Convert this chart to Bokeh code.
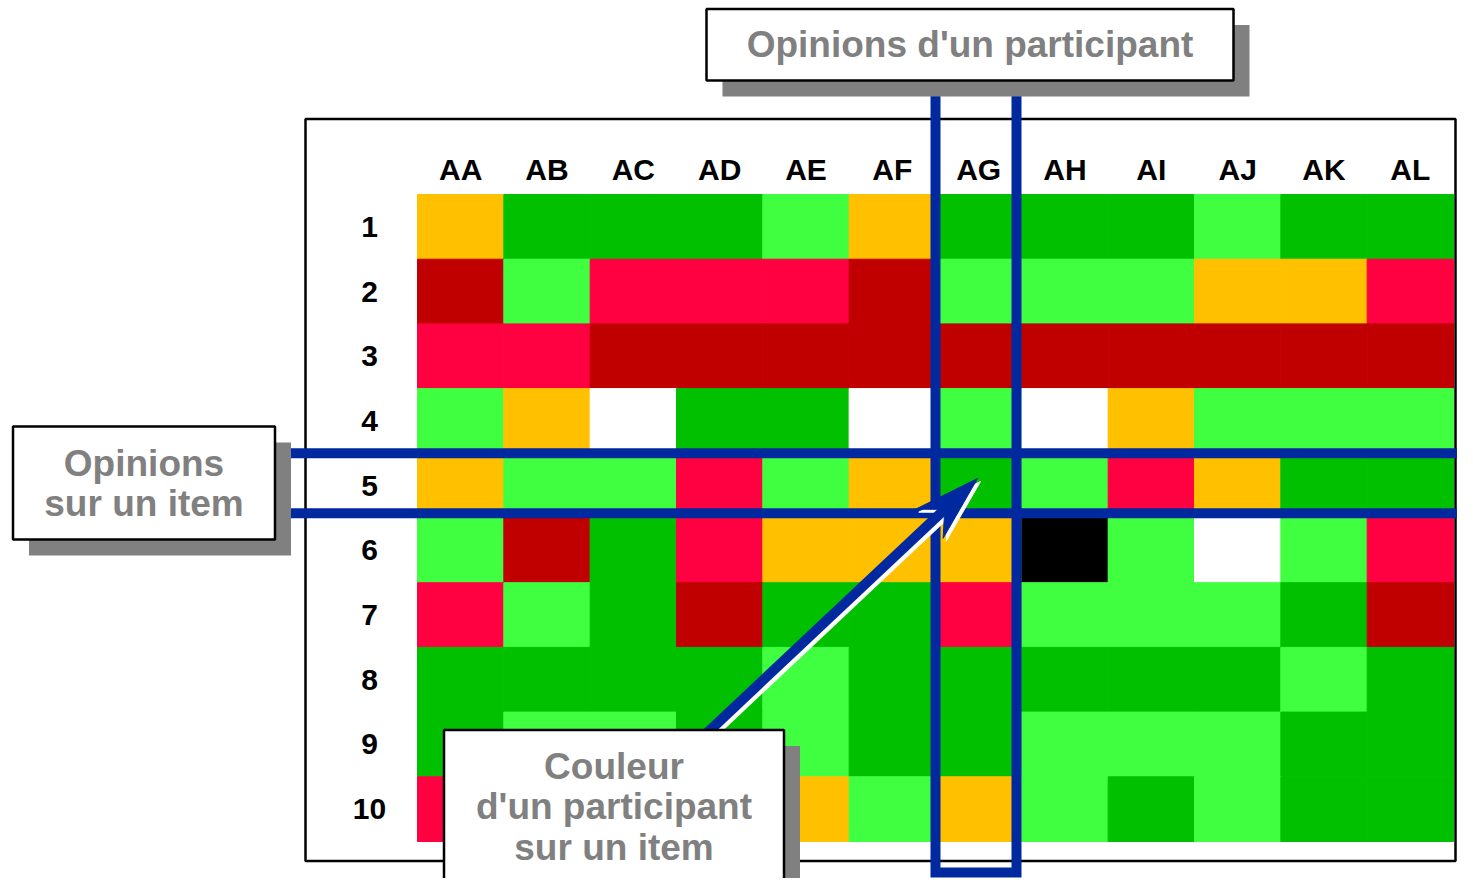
import math
from bokeh.plotting import figure
from bokeh.models import Range1d
from bokeh.core.properties import value
from bokeh.embed import file_html
from bokeh.resources import INLINE

# ---------------- data ----------------
columns = ["AA", "AB", "AC", "AD", "AE", "AF", "AG", "AH", "AI", "AJ", "AK", "AL"]
row_labels = ["1", "2", "3", "4", "5", "6", "7", "8", "9", "10"]

# opinion codes: G = dark green, L = light green, O = orange, R = red,
# D = dark red, W = white (no answer), K = black
row_1 = ["O", "G", "G", "G", "L", "O", "G", "G", "G", "L", "G", "G"]
row_2 = ["D", "L", "R", "R", "R", "D", "L", "L", "L", "O", "O", "R"]
row_3 = ["R", "R", "D", "D", "D", "D", "D", "D", "D", "D", "D", "D"]
row_4 = ["L", "O", "W", "G", "G", "W", "L", "W", "O", "L", "L", "L"]
row_5 = ["O", "L", "L", "R", "L", "O", "G", "L", "R", "O", "G", "G"]
row_6 = ["L", "D", "G", "R", "O", "O", "O", "K", "L", "W", "L", "R"]
row_7 = ["R", "L", "G", "D", "G", "G", "R", "L", "L", "L", "G", "D"]
row_8 = ["G", "G", "G", "G", "L", "G", "G", "G", "G", "G", "L", "G"]
row_9 = ["G", "L", "L", "G", "L", "G", "G", "L", "L", "L", "G", "G"]
row_10 = ["R", "L", "L", "G", "O", "L", "O", "L", "G", "L", "G", "G"]
rows_data = [row_1, row_2, row_3, row_4, row_5, row_6, row_7, row_8, row_9, row_10]

palette = {"G": "#00C000", "L": "#40FF40", "O": "#FFC000", "R": "#FF0040",
           "D": "#C00000", "W": "#FFFFFF", "K": "#000000"}

highlight_col = "AG"
highlight_row = "5"

# ---------------- geometry (canvas pixels -> grid units) ----------------
GX0, GX1 = 417.0, 1453.0
GY0, GY1 = 194.0, 841.0
CW = (GX1 - GX0) / len(columns)
RH = (GY1 - GY0) / len(row_labels)


def gx(px):
    return (px - GX0) / CW


def gy(py):
    return (py - GY0) / RH


W, H = 1457, 878
p = figure(width=W, height=H, output_backend="svg", toolbar_location=None,
           x_range=Range1d(gx(0), gx(W)), y_range=Range1d(gy(H), gy(0)),
           min_border=0)
p.axis.visible = False
p.grid.visible = False
p.outline_line_color = None
p.background_fill_color = "white"
p.border_fill_color = "white"

# ---------------- heatmap ----------------
xs, ys, cs = [], [], []
for ri, r in enumerate(rows_data):
    for ci, code in enumerate(r):
        xs.append(ci + 0.5)
        ys.append(ri + 0.5)
        cs.append(palette[code])
p.rect(x=xs, y=ys, width=1, height=1, fill_color=cs, line_color=cs, line_width=1)

# frame
p.quad(left=[gx(305)], right=[gx(1455)], top=[gy(118.5)], bottom=[gy(860.5)],
       fill_color=None, line_color="black", line_width=2.5)

# labels
FONT = value("Liberation Sans")
p.text(x=[i + 0.5 for i in range(len(columns))], y=[gy(169)] * len(columns), text=columns,
       text_font=FONT, text_font_style="bold", text_font_size="30px",
       text_color="black", text_align="center", text_baseline="middle")
p.text(x=[gx(369)] * len(row_labels), y=[i + 0.5 for i in range(len(row_labels))], text=row_labels,
       text_font=FONT, text_font_style="bold", text_font_size="30px",
       text_color="black", text_align="center", text_baseline="middle")

# ---------------- highlight rectangles ----------------
BLUE = "#00289F"
ci = columns.index(highlight_col)
ri = row_labels.index(highlight_row)
# participant column
p.quad(left=[ci], right=[ci + gx(1016) - gx(935)], top=[gy(60)], bottom=[gy(872)],
       fill_color=None, line_color=BLUE, line_width=10, line_join="miter")
# item row
p.quad(left=[gx(250)], right=[gx(1520)], top=[ri], bottom=[ri + (511.5 - 451.5) / RH],
       fill_color=None, line_color=BLUE, line_width=10, line_join="miter")

# ---------------- arrow ----------------
tip = (977.0, 478.0)
tail = (690.0, 748.0)
dx, dy = tip[0] - tail[0], tip[1] - tail[1]
L = math.hypot(dx, dy)
ux, uy = dx / L, dy / L
nx, ny = -uy, ux
head_len, half_w, notch = 66.0, 20.0, 45.0


def arrow_pts(off):
    tx, ty = tip[0] + off, tip[1] + off
    b1 = (tx - head_len * ux + half_w * nx, ty - head_len * uy + half_w * ny)
    b2 = (tx - head_len * ux - half_w * nx, ty - head_len * uy - half_w * ny)
    nt = (tx - notch * ux, ty - notch * uy)
    head = [(tx, ty), b1, nt, b2]
    shaft = [(tail[0] + off, tail[1] + off), nt]
    return head, shaft


for off, col in ((3.0, "white"), (0.0, BLUE)):
    head, shaft = arrow_pts(off)
    p.line(x=[gx(a) for a, b in shaft], y=[gy(b) for a, b in shaft],
           line_color=col, line_width=10)
    p.patch(x=[gx(a) for a, b in head], y=[gy(b) for a, b in head],
            fill_color=col, line_color=col, line_width=1)

# ---------------- callout boxes ----------------
GRAY = "#808080"


def callout(left, right, top, bottom, lines, line_gap):
    p.quad(left=[gx(left + 16)], right=[gx(right + 16)], top=[gy(top + 16)],
           bottom=[gy(bottom + 16)], fill_color=GRAY, line_color=None)
    p.quad(left=[gx(left)], right=[gx(right)], top=[gy(top)], bottom=[gy(bottom)],
           fill_color="white", line_color="black", line_width=2.5)
    cx = (left + right) / 2
    cy = (top + bottom) / 2
    n = len(lines)
    yy = [cy + (k - (n - 1) / 2) * line_gap for k in range(n)]
    p.text(x=[gx(cx)] * n, y=[gy(v) for v in yy], text=lines,
           text_font=FONT, text_font_style="bold", text_font_size="37px",
           text_color=GRAY, text_align="center", text_baseline="middle")


callout(706, 1233, 8.5, 80, ["Opinions d'un participant"], 40)
callout(12.5, 274.5, 426, 539, ["Opinions", "sur un item"], 40)
callout(443.5, 783.5, 729.5, 882.5, ["Couleur", "d'un participant", "sur un item"], 40.5)

open("out.html", "w").write(file_html(p, INLINE))
